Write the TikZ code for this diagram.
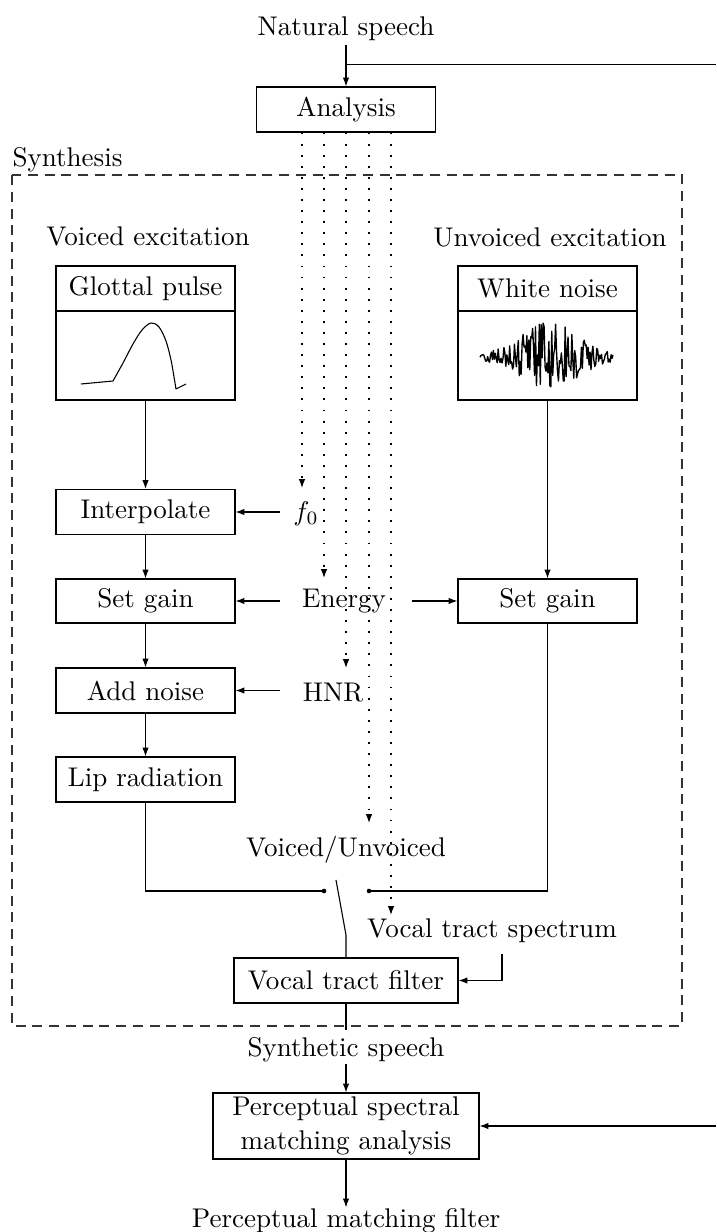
\documentclass[tikz,border=0pt]{standalone}
\usetikzlibrary{arrows.meta,calc}
\begin{document}
\begin{tikzpicture}[x=0.37pt,y=-0.37pt,
  box/.style={draw, inner sep=0pt, minimum width={#1*0.37pt}, minimum height={45*0.37pt}},
  lbl/.style={inner sep=0pt, anchor=base},
  arr/.style={-{Latex[length=3.3pt,width=2.4pt]}},
  dotarr/.style={dash pattern=on 0.7pt off 3.4pt, -{Latex[length=3.3pt,width=2.4pt]}},
  dashbox/.style={dash pattern=on 3.7pt off 2.5pt, black!80}]
\useasboundingbox (0,0) rectangle (716,1232);

% text labels
\node[lbl] (nat) at (346,36) {Natural speech};
\node[lbl, anchor=base west] (synl) at (12,167) {Synthesis};
\node[lbl] (vexc) at (148,245) {Voiced excitation};
\node[lbl] (uexc) at (550,246) {Unvoiced excitation};
\node[lbl] (f0) at (306,520) {$f_0$};
\node[lbl] (energy) at (344,607) {Energy};
\node[lbl] (hnr) at (333,701) {HNR};
\node[lbl] (vu) at (346,856) {Voiced/Unvoiced};
\node[lbl] (vts) at (492,937) {Vocal tract spectrum};
\node[lbl] (syn) at (346,1056) {Synthetic speech};
\node[lbl] (pmf) at (346,1227) {Perceptual matching filter};

% boxes
\node[box=179] (ana) at (346,109.5) {Analysis};
\node[box=179] (gpt) at (145.5,288.5) {Glottal pulse};
\node[box=179, minimum height={89*0.37pt}] (gpb) at (145.5,355.5) {};
\node[box=179] (wnt) at (547.5,288.5) {White noise};
\node[box=179, minimum height={89*0.37pt}] (wnb) at (547.5,355.5) {};
\node[box=179] (interp) at (145.5,512) {Interpolate};
\node[box=179, minimum height={44*0.37pt}] (sgl) at (145.5,601) {Set gain};
\node[box=179] (addn) at (145.5,690.5) {Add noise};
\node[box=179] (lip) at (145.5,779.5) {Lip radiation};
\node[box=179, minimum height={44*0.37pt}] (sgr) at (547.5,601) {Set gain};
\node[box=224] (vtf) at (346,980.5) {Vocal tract filter};
\node[box=266, minimum height={66*0.37pt}, align=center] (psm) at (346,1126)
  {Perceptual spectral\\[0.6pt]matching analysis};

% synthesis frame
\draw[dashbox] (12,175) rectangle (682,1026);

% glottal pulse waveform
\draw[line join=round] (81,384) -- (113,381)
  plot[smooth, tension=0.55] coordinates {(113,381) (123,363) (133,344) (142,330) (151,323) (159,327) (166,341) (171,360) (174,377) (176,389)}
  -- (186,384);

% white noise waveform
\pgfmathsetseed{11}
\draw[line width=0.5pt, line join=round] plot[domain=480:613, samples=140, variable=\t]
  (\t, {357 + (2.5 + 33*exp(-1*(((\t-548)/40)^2)))*rand});

% top
\draw[arr] (nat.south) ++(0,3) -- (ana.north);
\path (ana.north) ++(0,-22) coordinate (j1);
\coordinate (ne) at (716,65);
\draw (j1) -- (j1 -| ne);

% dotted parameter lines
\path (ana.south) ++(-44,0) coordinate (s1)
      (ana.south) ++(-22,0) coordinate (s2)
      (ana.south)           coordinate (s3)
      (ana.south) ++(23,0)  coordinate (s4)
      (ana.south) ++(45,0)  coordinate (s5);
\coordinate (e1) at (302,488);
\coordinate (e2) at (324,578);
\coordinate (e3) at (346,668);
\coordinate (e4) at (369,823);
\coordinate (e5) at (391,915);
\draw[dotarr] (s1) -- (s1 |- e1);
\draw[dotarr] (s2) -- (s2 |- e2);
\draw[dotarr] (s3) -- (s3 |- e3);
\draw[dotarr] (s4) -- (s4 |- e4);
\draw[dotarr] (s5) -- (s5 |- e5);

% parameter arrows
\draw[arr] ($(interp.east)+(44,0)$) -- (interp.east);
\draw[arr] ($(sgl.east)+(44,0)$) -- (sgl.east);
\draw[arr] ($(sgr.west)+(-45,0)$) -- (sgr.west);
\draw[arr] ($(addn.east)+(44,0)$) -- (addn.east);

% voiced chain
\draw[arr] (gpb.south) -- (interp.north);
\draw[arr] (interp.south) -- (sgl.north);
\draw[arr] (sgl.south) -- (addn.north);
\draw[arr] (addn.south) -- (lip.north);
\draw[arr] (wnb.south) -- (sgr.north);

% switch
\coordinate (sl) at (324,891);
\coordinate (sr) at (369,891);
\coordinate (lt) at (336,880);
\coordinate (lb) at (346,935);
\draw (lip.south) |- (sl);
\draw (sgr.south) |- (sr);
\fill (sl) circle[radius=2.3];
\fill (sr) circle[radius=2.3];
\draw (lt) -- (lb) -- (vtf.north);

% vocal tract spectrum to filter
\coordinate (vs) at (502,954);
\draw[arr] (vs) |- (vtf.east);

% output
\coordinate (vo) at (346,1030);
\draw (vtf.south) -- (vo);
\draw[arr] (syn.south) ++(0,2) -- (psm.north);
\draw[arr] (psm.south) -- (pmf.north);
\coordinate (se) at (716,1126);
\draw[arr] (se) -- (psm.east);
\end{tikzpicture}
\end{document}
